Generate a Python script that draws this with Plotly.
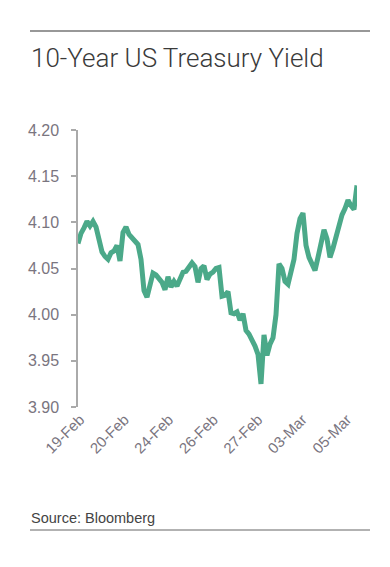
import plotly.graph_objects as go

# ---- data (intraday 10Y yield, evenly spaced samples) ----
yield_values = [
    4.077, 4.088, 4.094, 4.101, 4.096, 4.101, 4.095, 4.081, 4.068, 4.063,
    4.060, 4.067, 4.069, 4.075, 4.058, 4.089, 4.095, 4.087, 4.083, 4.078,
    4.076, 4.060, 4.026, 4.019, 4.033, 4.045, 4.043, 4.039, 4.035, 4.027,
    4.041, 4.030, 4.036, 4.031, 4.040, 4.046, 4.047, 4.051, 4.056, 4.052,
    4.035, 4.050, 4.053, 4.038, 4.044, 4.046, 4.050, 4.051, 4.020, 4.021,
    4.025, 4.002, 4.001, 4.003, 3.994, 4.001, 3.983, 3.979, 3.973, 3.966,
    3.957, 3.925, 3.978, 3.956, 3.968, 3.975, 4.000, 4.055, 4.050, 4.036,
    4.033, 4.045, 4.060, 4.088, 4.104, 4.110, 4.075, 4.062, 4.055, 4.048,
    4.062, 4.075, 4.092, 4.082, 4.062, 4.072, 4.085, 4.094, 4.108, 4.115,
    4.124, 4.118, 4.114, 4.140,
]
tick_labels = ["19-Feb", "20-Feb", "24-Feb", "26-Feb", "27-Feb", "03-Mar", "05-Mar"]
tick_index = [0.67, 15.5, 30.3, 45.2, 60, 74.8, 89.7]
y_ticks = [3.90, 3.95, 4.00, 4.05, 4.10, 4.15, 4.20]

x_values = list(range(len(yield_values)))

# page body has an 8px margin; work in screen pixels and shift
OFF = 8
W, H = 382, 559
ML, MT = 78 - OFF, 130 - OFF
MR = W - (357 - OFF)
MB = H - (407 - OFF)

def px_x(p):
    return (p - OFF - ML) / (W - ML - MR)

def px_y(p):
    return 1 - (p - OFF - MT) / (H - MT - MB)

fig = go.Figure()
fig.add_trace(go.Scatter(
    x=x_values, y=yield_values, mode="lines",
    line=dict(color="#4ba989", width=5, shape="linear"),
    hoverinfo="skip", showlegend=False,
))

fig.update_layout(
    width=W, height=H,
    margin=dict(l=ML, r=MR, t=MT, b=MB, pad=0),
    paper_bgcolor="white", plot_bgcolor="white",
    font=dict(family="Liberation Sans, Arial, sans-serif", color="#7a7580"),
    xaxis=dict(
        range=[0, len(yield_values) - 1],
        tickmode="array", tickvals=tick_index, ticktext=tick_labels,
        tickangle=-45, showgrid=False, zeroline=False, showline=False,
        ticks="", tickfont=dict(size=15, color="#7a7580"),
        fixedrange=True,
    ),
    yaxis=dict(
        range=[3.90, 4.20], tickmode="array", tickvals=y_ticks,
        ticktext=[f"{v:.2f}" for v in y_ticks],
        showgrid=False, zeroline=False, showline=True, linecolor="#aaaaaa",
        linewidth=1.5, ticks="outside", ticklen=5, tickcolor="#aaaaaa",
        tickwidth=1.5, tickfont=dict(size=16, color="#7a7580"),
        ticklabelstandoff=9, fixedrange=True,
    ),
    shapes=[
        dict(type="line", xref="paper", yref="paper",
             x0=px_x(30), x1=px_x(370), y0=px_y(31), y1=px_y(31),
             line=dict(color="#333333", width=1.2)),
        dict(type="line", xref="paper", yref="paper",
             x0=px_x(30), x1=px_x(370), y0=px_y(530), y1=px_y(530),
             line=dict(color="#999999", width=1.5)),
    ],
    annotations=[
        dict(text="10-Year US Treasury Yield", xref="paper", yref="paper",
             x=px_x(29), y=px_y(58), xanchor="left", yanchor="middle",
             showarrow=False,
             font=dict(size=26, color="#3a3a3a",
                       family="Roboto, Liberation Sans, sans-serif", weight=300)),
        dict(text="Source: Bloomberg", xref="paper", yref="paper",
             x=px_x(29), y=px_y(518), xanchor="left", yanchor="middle",
             showarrow=False,
             font=dict(size=14.5, color="#444444",
                       family="Liberation Sans, Arial, sans-serif")),
    ],
)

fig.write_html("out.html")
